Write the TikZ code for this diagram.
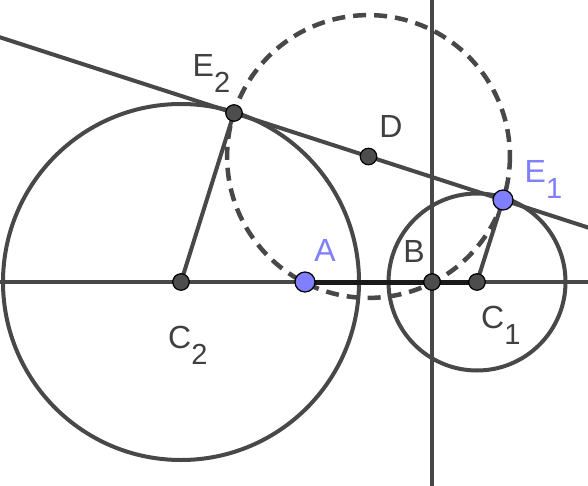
\documentclass[tikz,border=0pt]{standalone}
\usepackage{fontspec}
\setmainfont{Liberation Sans}
\usetikzlibrary{calc}
\definecolor{lg}{HTML}{484848}
\definecolor{pb}{HTML}{7F7FFF}
\definecolor{pg}{HTML}{4D4D4D}
\definecolor{lt}{HTML}{404040}
\newcommand{\subf}[1]{\raisebox{-16pt}{\fontsize{29}{34}\selectfont #1}}
\begin{document}
\begin{tikzpicture}[x=1pt,y=-1pt,
  ln/.style={draw=lg,line width=4pt},
  dsh/.style={draw=lg,line width=4.5pt,dash pattern=on 13pt off 8pt},
  dpt/.style={circle,fill=pg,draw=black,line width=1.2pt,inner sep=0pt,minimum size=16.5pt},
  bpt/.style={circle,fill=pb,draw=black,line width=1.2pt,inner sep=0pt,minimum size=20pt},
  lbl/.style={font=\fontsize{32}{38}\selectfont,text=lt,inner sep=0pt},
  blbl/.style={lbl,text=pb},
]
\useasboundingbox (0,0) rectangle (588,486);
\fill[white] (0,0) rectangle (588,486);
\clip (0,0) rectangle (588,486);
\coordinate (C2) at (181,282);
\coordinate (C1) at (477,282);
\coordinate (A) at (305,282);
\coordinate (B) at (432,282);
\coordinate (E2) at (234,113);
\coordinate (E1) at (503,200);
\coordinate (D) at ($(E2)!0.5!(E1)$);
\coordinate (HL) at (-10,282);
\coordinate (HR) at (600,282);
\coordinate (VT) at (432,-10);
\coordinate (VB) at (432,500);
% circles
\draw[ln] (C2) circle[radius=178];
\draw[ln] (C1) circle[radius=88.5];
\draw[dsh] (D) circle[radius=141.4];
% lines
\draw[ln] (HL) -- (HR);
\draw[ln] (VT) -- (VB);
\draw[ln] ($(E2)!-0.95!(E1)$) -- ($(E2)!1.4!(E1)$);
\draw[ln] (C2) -- (E2);
\draw[ln] (C1) -- (E1);
\draw[draw=black!90,line width=5pt] (A) -- (C1);
% points
\node[dpt] (pC2) at (C2) {};
\node[dpt] (pC1) at (C1) {};
\node[dpt] (pB) at (B) {};
\node[dpt] (pE2) at (E2) {};
\node[dpt] (pD) at (D) {};
\node[bpt] (pA) at (A) {};
\node[bpt] (pE1) at (E1) {};
% labels
\node[blbl] (lA) at (325,250) {A};
\node[lbl] (lB) at (414,251) {B};
\node[lbl] (lD) at (391,126) {D};
\node[lbl,anchor=base west] (lE2) at (192.5,77) {E\subf{2}};
\node[blbl,anchor=base west] (lE1) at (524.5,183) {E\subf{1}};
\node[lbl,anchor=base west] (lC2) at (168,348) {C\subf{2}};
\node[lbl,anchor=base west] (lC1) at (481,328) {C\subf{1}};
\end{tikzpicture}
\end{document}
